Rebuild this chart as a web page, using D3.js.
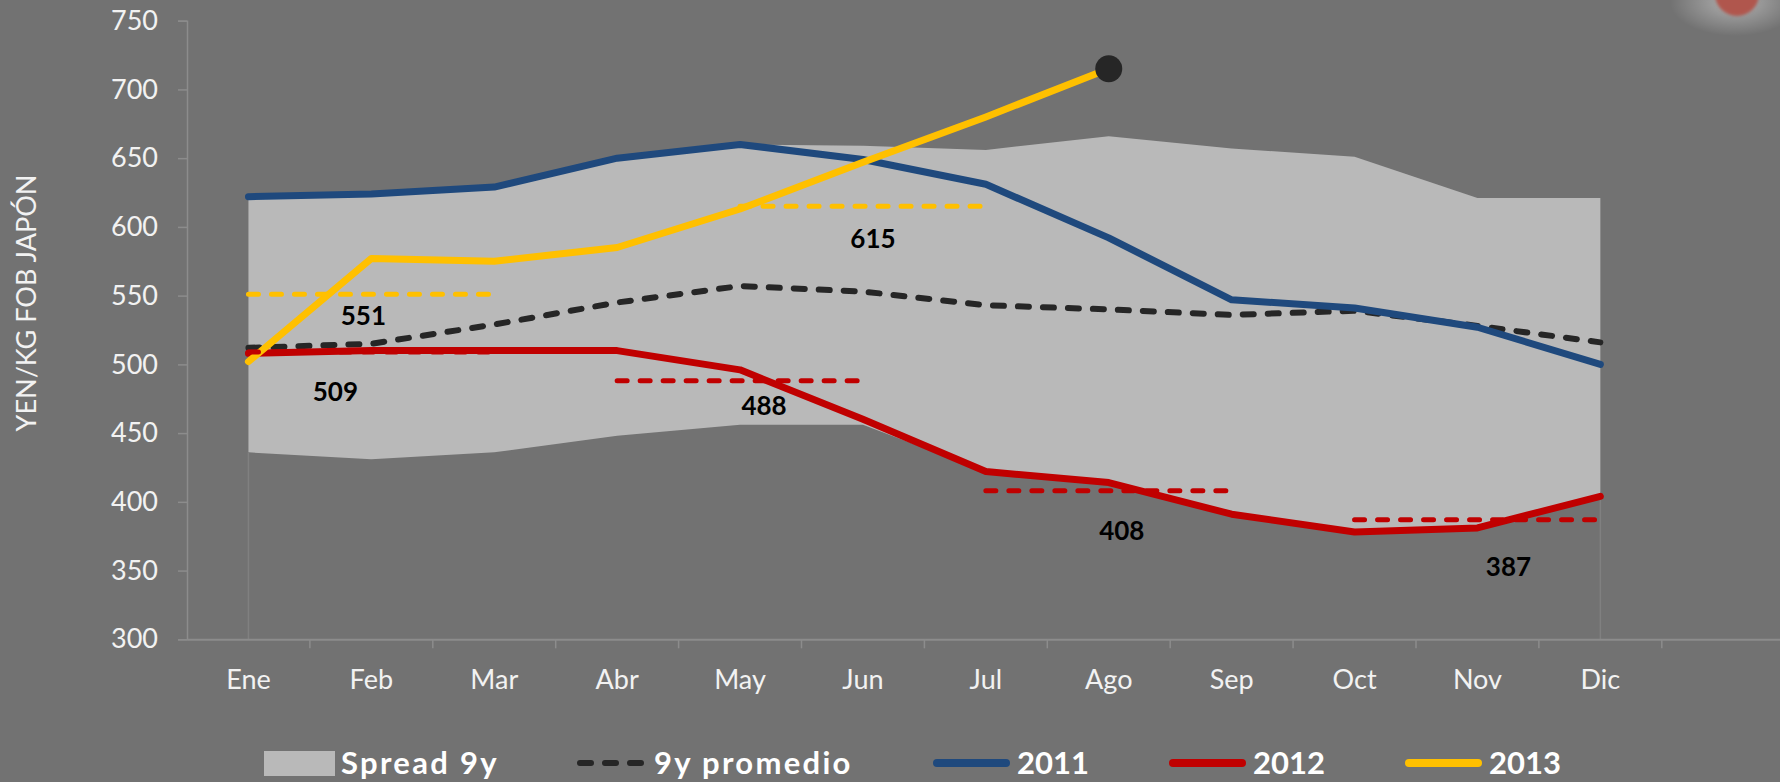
<!DOCTYPE html>
<html>
<head>
<meta charset="utf-8">
<script src="https://cdn.jsdelivr.net/npm/d3@7"></script>
<style>
  html, body { margin: 0; padding: 0; background: #727272; }
  svg { display: block; font-family: Lato, "Open Sans", sans-serif; }
</style>
</head>
<body>
<div id="chart"></div>
<script>
const months = ['Ene', 'Feb', 'Mar', 'Abr', 'May', 'Jun', 'Jul', 'Ago', 'Sep', 'Oct', 'Nov', 'Dic'];
const yTicks = [300, 350, 400, 450, 500, 550, 600, 650, 700, 750];

const spreadHigh = [621, 624, 628, 649, 660, 659, 656, 666, 657, 651, 621, 621];
const spreadLow = [436, 431, 436, 448, 456, 456, 422, 414, 391, 378, 381, 404];
const avg9y = [512, 515, 529, 545, 557, 553, 543, 540, 536, 539, 528, 516];
const s2011 = [622, 624, 629, 650, 660, 649, 631, 592, 547, 541, 527, 500];
const s2012 = [508, 510, 510, 510, 496, 460, 422, 414, 391, 378, 381, 404];
const s2013 = [502, 577, 575, 585, 613, 647, 680, 715];

// quarterly averages drawn as dashed segments
const avgValues = [551, 509, 488, 615, 408, 387];
const avgFrom = ['Ene', 'Ene', 'Abr', 'May', 'Jul', 'Oct'];
const avgTo = ['Mar', 'Mar', 'Jun', 'Jul', 'Sep', 'Dic'];
const avgYear = ['2013', '2012', '2012', '2013', '2012', '2012'];
const avgLabelAt = ['Feb', 'Feb', 'May', 'Jun', 'Ago', 'Nov'];

const legendNames = ['Spread 9y', '9y promedio', '2011', '2012', '2013'];

const COLORS = { '2011': '#1f497d', '2012': '#c00000', '2013': '#ffc000', avg: '#262626', spread: '#b9b9b9' };

const W = 1780, H = 782;
const left = 187, bandW = 122.9;
const svg = d3.select('#chart').append('svg').attr('width', W).attr('height', H);

svg.append('rect').attr('width', W).attr('height', H).attr('fill', '#727272');

const defs = svg.append('defs');
const glow = defs.append('radialGradient').attr('id', 'glow');
glow.append('stop').attr('offset', '0%').attr('stop-color', '#ffffff').attr('stop-opacity', 0.45);
glow.append('stop').attr('offset', '100%').attr('stop-color', '#ffffff').attr('stop-opacity', 0);
defs.append('filter').attr('id', 'blur').append('feGaussianBlur').attr('stdDeviation', 1.5);

// x: 13 bands, the last one empty
const x = d3.scaleBand().domain([...months, '']).range([left, left + bandW * 13]);
const cx = m => x(m) + x.bandwidth() / 2;
const y = d3.scaleLinear().domain([300, 750]).range([639.3, 20.7]);

// spread area
const area = d3.area().x((d, i) => cx(months[i])).y0(d => y(d[0])).y1(d => y(d[1]));
svg.append('path').datum(months.map((m, i) => [spreadLow[i], spreadHigh[i]]))
  .attr('d', area).attr('fill', COLORS.spread);

// faint edges of the stacked base
[0, 11].forEach(i => {
  svg.append('line').attr('x1', cx(months[i])).attr('x2', cx(months[i]))
    .attr('y1', y(spreadLow[i])).attr('y2', y(300))
    .attr('stroke', '#808080').attr('stroke-width', 1.5);
});

// axes
const yAxis = svg.append('g').attr('transform', `translate(${left},0)`)
  .call(d3.axisLeft(y).tickValues(yTicks).tickSize(9).tickPadding(20));
yAxis.select('.domain').attr('stroke', '#8c8c8c').attr('stroke-width', 1.5);
yAxis.selectAll('.tick line').attr('stroke', '#8c8c8c').attr('stroke-width', 1.5);
yAxis.selectAll('.tick text').attr('fill', '#f2f2f2').style('font-size', '27px').attr('font-family', 'Lato');

const xAxis = svg.append('g').attr('transform', `translate(0,${y(300)})`)
  .call(d3.axisBottom(x).tickSize(0).tickPadding(31));
xAxis.select('.domain').attr('stroke', '#8c8c8c').attr('stroke-width', 2);
xAxis.selectAll('.tick text').attr('fill', '#f2f2f2').style('font-size', '27px').attr('font-family', 'Lato');
svg.append('g').selectAll('line').data(x.domain().slice(1)).enter().append('line')
  .attr('x1', d => x(d)).attr('x2', d => x(d))
  .attr('y1', y(300)).attr('y2', y(300) + 9)
  .attr('stroke', '#8c8c8c').attr('stroke-width', 1.5);

svg.append('text')
  .attr('transform', `translate(36,303) rotate(-90)`)
  .attr('text-anchor', 'middle')
  .attr('fill', '#f2f2f2').style('font-size', '27px')
  .text('YEN/KG FOB JAPÓN');

// series lines
const line = d3.line().x((d, i) => cx(months[i])).y(d => y(d));

svg.append('path').datum(avg9y).attr('d', line).attr('fill', 'none')
  .attr('stroke', COLORS.avg).attr('stroke-width', 6)
  .attr('stroke-dasharray', '11 14').attr('stroke-linecap', 'round');

[[s2011, '2011'], [s2012, '2012'], [s2013, '2013']].forEach(([data, key]) => {
  svg.append('path').datum(data).attr('d', line).attr('fill', 'none')
    .attr('stroke', COLORS[key]).attr('stroke-width', 7)
    .attr('stroke-linejoin', 'round').attr('stroke-linecap', 'round');
});

// average segments
avgValues.forEach((v, i) => {
  svg.append('line')
    .attr('x1', cx(avgFrom[i])).attr('x2', cx(avgTo[i]))
    .attr('y1', y(v)).attr('y2', y(v))
    .attr('stroke', COLORS[avgYear[i]]).attr('stroke-width', 5)
    .attr('stroke-dasharray', '10 13').attr('stroke-linecap', 'round');
});

// label nudges (px) as placed in the original
const labelDx = [-8, -36, 24, 10, 13, 31];
const labelDy = [31, 49, 34, 42, 49, 56];
avgValues.forEach((v, i) => {
  svg.append('text')
    .attr('x', cx(avgLabelAt[i]) + labelDx[i]).attr('y', y(v) + labelDy[i])
    .attr('text-anchor', 'middle').attr('fill', '#000')
    .style('font-size', '26px').style('font-weight', 700)
    .text(v);
});

// last point of 2013
const last = s2013.length - 1;
svg.append('circle').attr('cx', cx(months[last])).attr('cy', y(s2013[last]))
  .attr('r', 13.5).attr('fill', '#262626');

// top-right blob
svg.append('ellipse').attr('cx', 1735).attr('cy', 2).attr('rx', 65).attr('ry', 34).attr('fill', 'url(#glow)');
svg.append('circle').attr('cx', 1737).attr('cy', -6).attr('r', 22).attr('fill', '#b0564d').attr('filter', 'url(#blur)');

// legend
const lg = svg.append('g').style('font-size', '31px').style('font-weight', 700);
const legendX = [264, 577, 933, 1169, 1405];
const ly = 763;
lg.append('rect').attr('x', legendX[0]).attr('y', ly - 12).attr('width', 71).attr('height', 25).attr('fill', COLORS.spread);
lg.append('line').attr('x1', legendX[1] + 3).attr('x2', legendX[1] + 78).attr('y1', ly).attr('y2', ly)
  .attr('stroke', COLORS.avg).attr('stroke-width', 6).attr('stroke-dasharray', '11 14').attr('stroke-linecap', 'round');
['2011', '2012', '2013'].forEach((k, i) => {
  lg.append('line').attr('x1', legendX[i + 2] + 4).attr('x2', legendX[i + 2] + 73).attr('y1', ly).attr('y2', ly)
    .attr('stroke', COLORS[k]).attr('stroke-width', 8).attr('stroke-linecap', 'round');
});
legendNames.forEach((n, i) => {
  lg.append('text').attr('x', legendX[i] + (i < 2 ? 77 : 84)).attr('y', ly)
    .attr('dy', '0.36em').attr('fill', '#ffffff')
    .style('letter-spacing', i < 2 ? '2.3px' : '0px')
    .text(n);
});
</script>
</body>
</html>
